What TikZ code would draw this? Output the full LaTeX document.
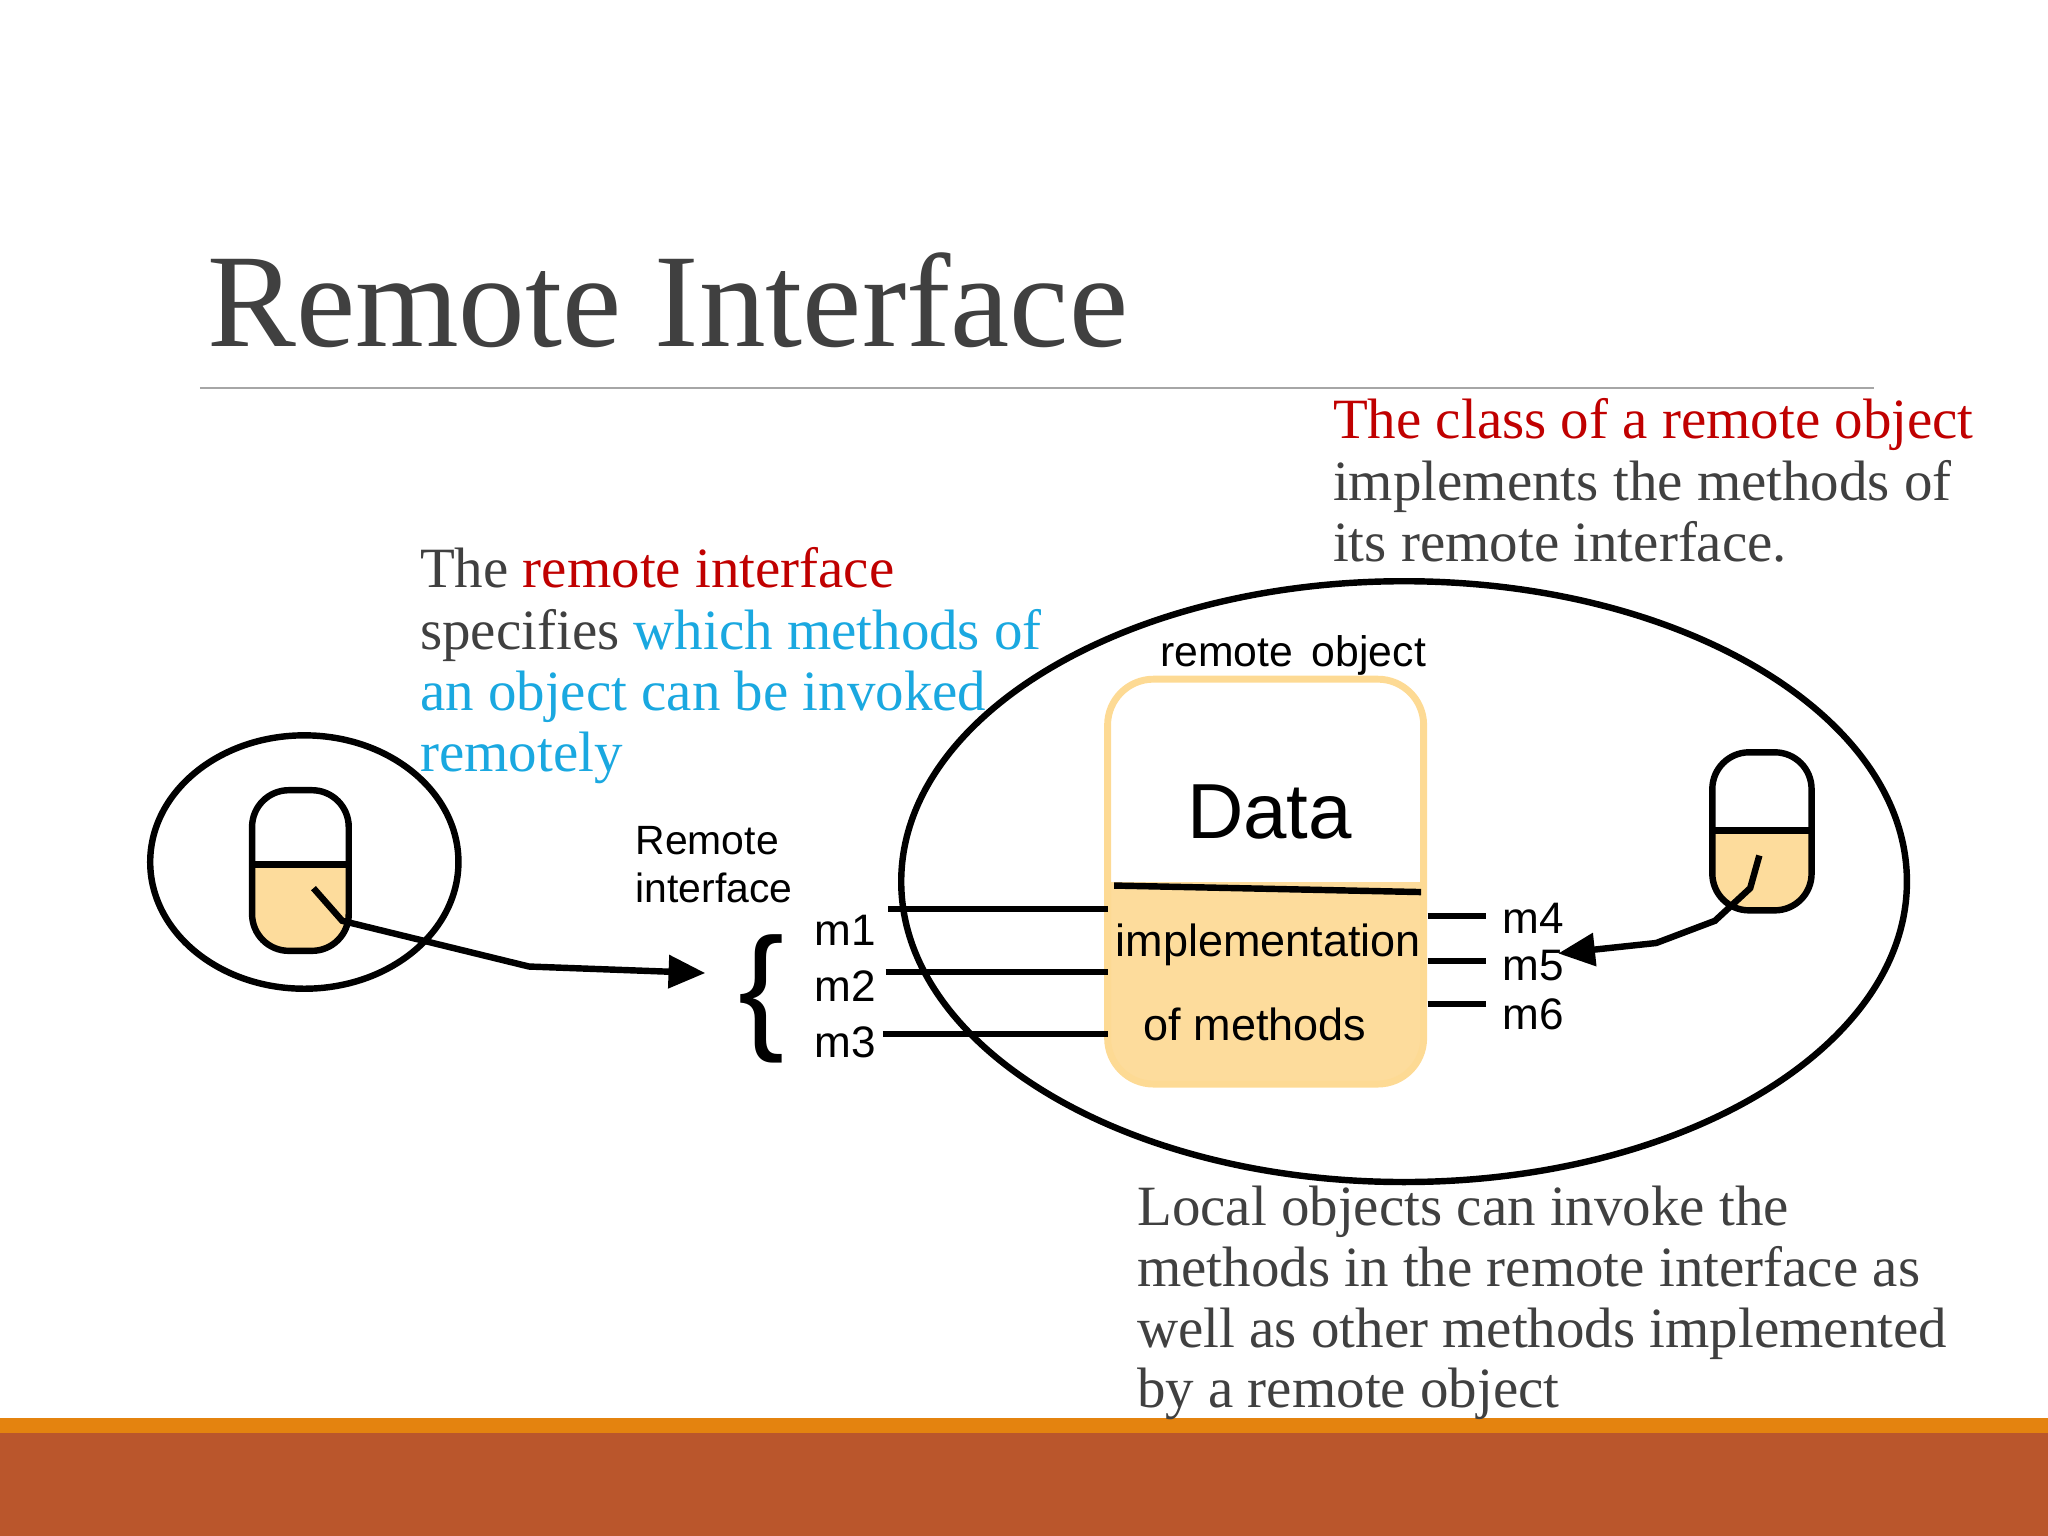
\documentclass[tikz,border=0pt]{standalone}
\usepackage{fontspec}
\setmainfont{Liberation Serif}
\newfontfamily\sansf{Liberation Sans}
\usetikzlibrary{arrows.meta}
\definecolor{txtgray}{HTML}{404040}
\definecolor{myred}{HTML}{C00000}
\definecolor{mycyan}{HTML}{1AA8E0}
\definecolor{boxedge}{HTML}{FDDA94}
\definecolor{boxfill}{HTML}{FDDC9C}
\definecolor{barorange}{HTML}{E4830F}
\definecolor{barbrown}{HTML}{BA562C}
\tikzset{
  body/.style={anchor=base west,text=txtgray,font=\fontsize{12.4}{14}\selectfont,inner sep=0pt},
  lab/.style={anchor=base west,font=\sansf\fontsize{9.6}{11}\selectfont,inner sep=0pt},
  thk/.style={line width=1.4pt},
  meth/.style={line width=1.3pt}
}
\begin{document}
\begin{tikzpicture}[x=0.01cm,y=-0.01cm]
\useasboundingbox (0,0) rectangle (1568,1176);
% bars
\fill[barbrown] (0,1097) rectangle (1568,1176);
\fill[barorange] (0,1086) rectangle (1568,1097);
% title
\node[anchor=base west,text=txtgray,font=\fontsize{29}{32}\selectfont,inner sep=0pt] (title) at (158,265) {Remote Interface};
\draw[gray!70,line width=0.5pt] (153,297) -- (1435,297);
% ellipses
\draw[thk] (233,660) ellipse [x radius=118,y radius=97];
\draw[thk] (1075,675) ellipse [x radius=385,y radius=230];
% small objects
\begin{scope}
\clip[rounded corners=8pt] (193,605) rectangle (267,728);
\fill[boxfill] (193,662) rectangle (267,728);
\end{scope}
\draw[thk,rounded corners=8pt] (193,605) rectangle (267,728);
\draw[thk] (193,662) -- (267,662);
\begin{scope}
\clip[rounded corners=8pt] (1311,576) rectangle (1387,697);
\fill[boxfill] (1311,636) rectangle (1387,697);
\end{scope}
\draw[thk,rounded corners=8pt] (1311,576) rectangle (1387,697);
\draw[thk] (1311,636) -- (1387,636);
% remote object box
\begin{scope}
\clip[rounded corners=10pt] (848,520) rectangle (1090,830);
\fill[boxfill] (848,675) rectangle (1090,830);
\end{scope}
\draw[boxedge,line width=1.5pt,rounded corners=10pt] (848,520) rectangle (1090,830);
\draw[thk] (853,678) -- (1088,683);
\node[anchor=base,font=\sansf\fontsize{17}{20}\selectfont,inner sep=0pt] (data) at (972,642) {Data};
\node[anchor=base,font=\sansf\fontsize{9.8}{11}\selectfont,inner sep=0pt] (impl) at (971,732) {implementation};
\node[anchor=base,font=\sansf\fontsize{9.8}{11}\selectfont,inner sep=0pt] (ofm) at (961,797) {of methods};
\node[anchor=base,font=\sansf\fontsize{9.3}{11}\selectfont,inner sep=0pt] (ro) at (990,510) {remote\, object};
% methods
\coordinate (a1) at (680,696); \coordinate (b1) at (848,696);
\coordinate (a2) at (678,744); \coordinate (b2) at (848,744);
\coordinate (a3) at (676,792); \coordinate (b3) at (848,792);
\draw[meth] (a1) -- (b1); \draw[meth] (a2) -- (b2); \draw[meth] (a3) -- (b3);
\coordinate (c4) at (1093,701); \coordinate (d4) at (1138,701);
\coordinate (c5) at (1093,736); \coordinate (d5) at (1138,736);
\coordinate (c6) at (1093,769); \coordinate (d6) at (1138,769);
\draw[meth] (c4) -- (d4); \draw[meth] (c5) -- (d5); \draw[meth] (c6) -- (d6);
\node[lab] (m1) at (623,724) {m1};
\node[lab] (m2) at (623,767) {m2};
\node[lab] (m3) at (623,810) {m3};
\node[lab] (m4) at (1150,715) {m4};
\node[lab] (m5) at (1150,751) {m5};
\node[lab] (m6) at (1150,788) {m6};
\node[anchor=center,font=\sansf\fontsize{30}{32}\selectfont,inner sep=0pt] (brace) at (583,765) {\{};
\node[lab,align=left,anchor=north west,font=\sansf\fontsize{8.9}{10.4}\selectfont] (ri) at (486,632) {Remote\\interface};
% arrows
\coordinate (s1) at (240,680);
\coordinate (e1) at (540,745);
\draw[thk,-{Triangle[length=8pt,width=7pt]}] (s1) -- (262,705) -- (405,740) -- (e1);
\coordinate (s2) at (1347,655);
\coordinate (e2) at (1193,730);
\draw[thk,-{Triangle[length=8pt,width=7pt]}] (s2) -- (1340,680) -- (1313,705) -- (1268,722) -- (e2);
% texts
\node[body] (t1) at (1020,336) {\textcolor{myred}{The class of a remote object}};
\node[body] (t2) at (1020,383) {implements the methods of};
\node[body] (t3) at (1020,430) {its remote interface.};
\node[body] (l1) at (321,450) {The \textcolor{myred}{remote interface}};
\node[body] (l2) at (321,497) {specifies \textcolor{mycyan}{which methods of}};
\node[body] (l3) at (321,544) {\textcolor{mycyan}{an object can be invoked}};
\node[body] (l4) at (321,591) {\textcolor{mycyan}{remotely}};
\node[body] (b1t) at (870,938) {Local objects can invoke the};
\node[body] (b2t) at (870,985) {methods in the remote interface as};
\node[body] (b3t) at (870,1032) {well as other methods implemented};
\node[body] (b4t) at (870,1078) {by a remote object};
\end{tikzpicture}
\end{document}
